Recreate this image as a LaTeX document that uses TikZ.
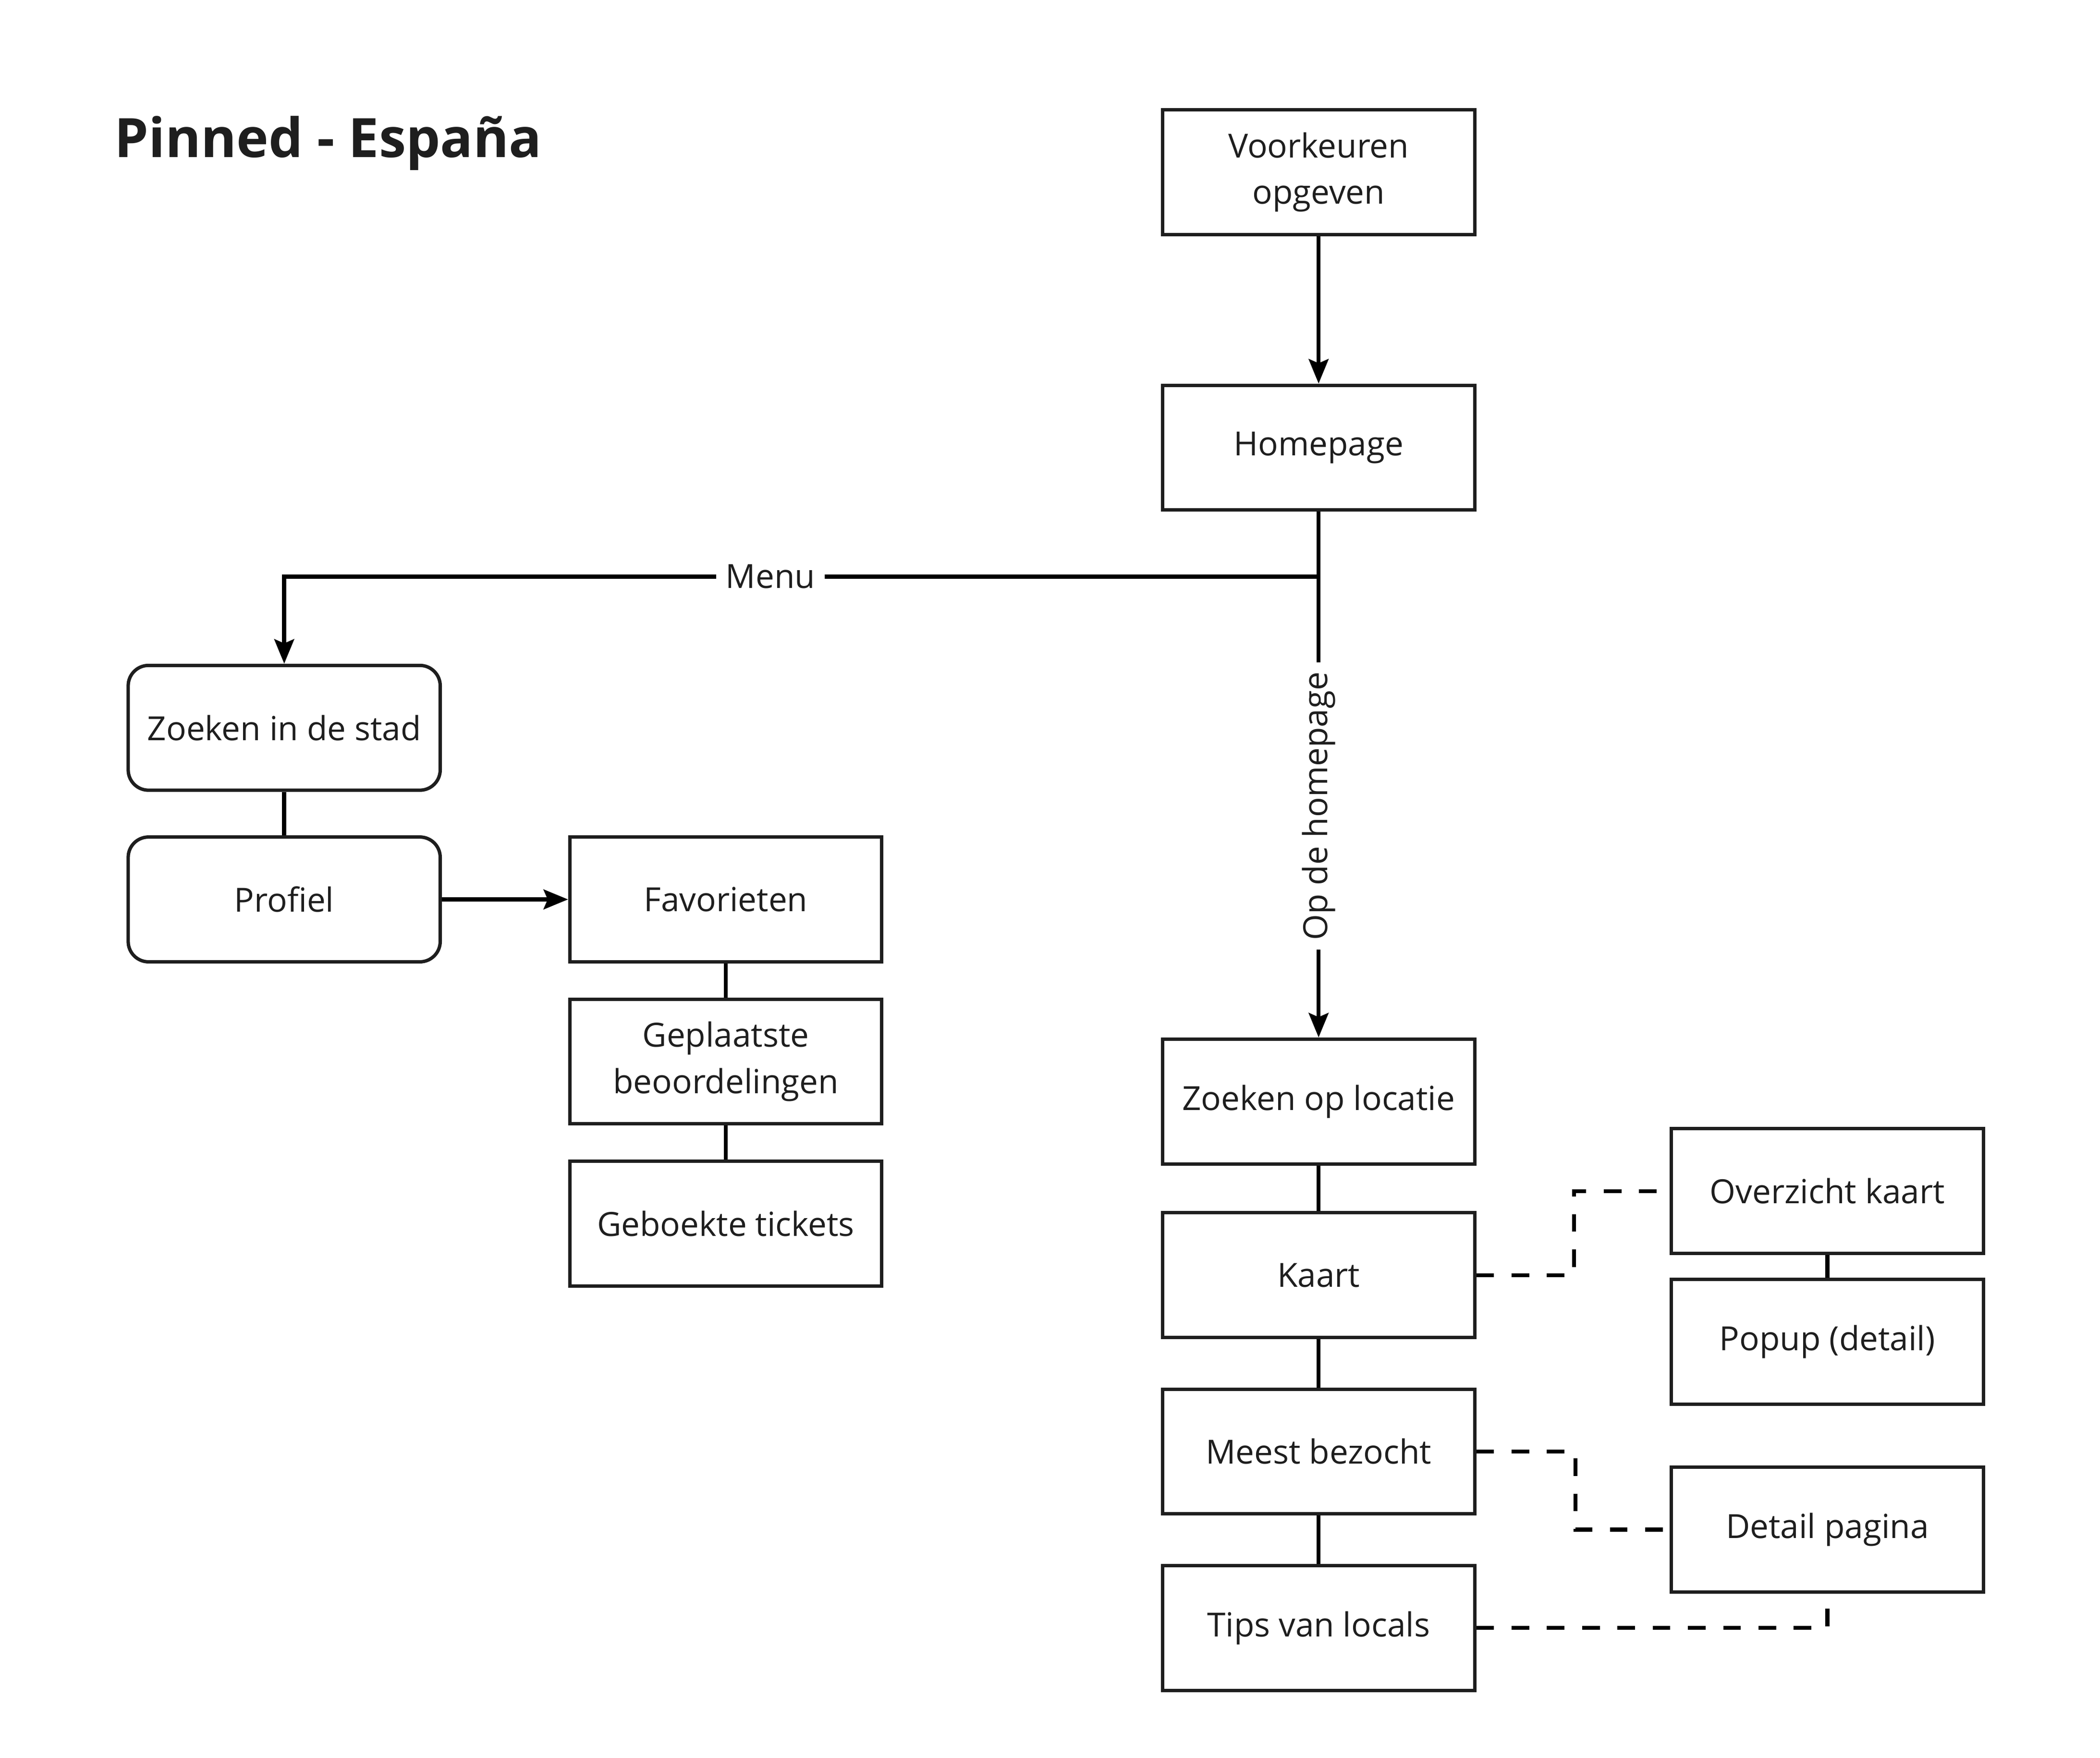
\documentclass[tikz,border=0pt]{standalone}
\usepackage{fontspec}
\setmainfont{Open Sans}
\usepackage{xcolor}
\usetikzlibrary{arrows.meta}
\definecolor{ink}{HTML}{1E1E1E}
\tikzset{
	page/.style={draw=ink, line width=2.5pt, minimum width=230pt, minimum height=92pt, align=center, text=ink, font=\fontsize{24.5}{34}\selectfont, inner sep=0pt},
	menupage/.style={page, rounded corners=15pt},
	link/.style={draw=black, line width=3pt},
	sublink/.style={link, dash pattern=on 13pt off 13pt},
	tag/.style={fill=white, text=ink, font=\fontsize{24.5}{34}\selectfont, inner sep=7pt},
}

\begin{document}
\begin{tikzpicture}[x=1pt, y=-1pt, >={Stealth[length=18pt,width=14.5pt,inset=3pt]}]
	\useasboundingbox (0,0) rectangle (1548,1295.6);
	\node [anchor=base west, text=ink, font=\bfseries\fontsize{40}{48}\selectfont] (title) at (81,116) {Pinned - España};

	\node [page] (prefs) at (972,127) {Voorkeuren\\opgeven};
	\node [page] (home) at (972,330) {Homepage};
	\node [menupage] (city) at (209.5,536.5) {Zoeken in de stad};
	\node [menupage] (profile) at (209.5,663) {Profiel};
	\node [page] (favs) at (535,663) {Favorieten};
	\node [page] (reviews) at (535,782.5) {Geplaatste\\beoordelingen};
	\node [page] (tickets) at (535,902) {Geboekte tickets};
	\node [page] (location) at (972,812) {Zoeken op locatie};
	\node [page] (map) at (972,940) {Kaart};
	\node [page] (visited) at (972,1070) {Meest bezocht};
	\node [page] (tips) at (972,1200) {Tips van locals};
	\node [page] (overview) at (1347,878) {Overzicht kaart};
	\node [page] (popup) at (1347,989) {Popup (detail)};
	\node [page] (detail) at (1347,1127.5) {Detail pagina};
	\coordinate (split) at (972,425);

	\draw [link, ->] (prefs.south) -- (home.north);
	\draw [link, ->] (home.south) -- (split) -| node [tag, pos=0.265] {Menu} (city.north);
	\draw [link, ->] (home.south) -- node [tag, rotate=90, pos=0.56] {Op de homepage} (location.north);
	\draw [link] (city.south) -- (profile.north);
	\draw [link, ->] (profile.east) -- (favs.west);
	\draw [link] (favs.south) -- (reviews.north);
	\draw [link] (reviews.south) -- (tickets.north);
	\draw [link] (location.south) -- (map.north);
	\draw [link] (map.south) -- (visited.north);
	\draw [link] (visited.south) -- (tips.north);
	\draw [link] (overview.south) -- (popup.north);
	\draw [sublink] (map.east) -- ++(72,0) |- (overview.west);
	\draw [sublink] (visited.east) -- ++(73,0) |- (detail.west);
	\draw [sublink] (tips.east) -| (detail.south);
\end{tikzpicture}
\end{document}
